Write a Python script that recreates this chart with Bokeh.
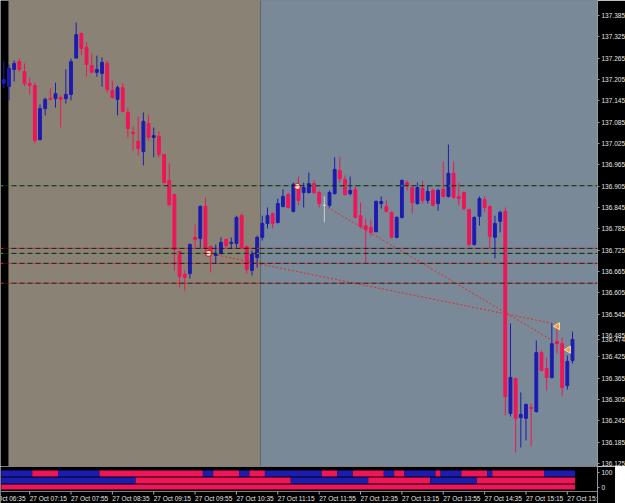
import math
from bokeh.plotting import figure
from bokeh.layouts import column
from bokeh.models import (FixedTicker, PrintfTickFormatter, LinearAxis, Range1d, Span)
from bokeh.core.properties import value
from bokeh.embed import file_html
from bokeh.resources import INLINE

# ---------------- data (M5 candles, 27 Oct 06:50 .. 16:00) ----------------
opens = [137.194, 137.185, 137.233, 137.255, 137.227, 137.194, 137.188, 137.036, 137.123, 137.151,
         137.151, 137.154, 137.151, 137.163, 137.265, 137.334, 137.295, 137.244, 137.225, 137.222,
         137.250, 137.174, 137.149, 137.182, 137.112, 137.056, 137.031, 137.002, 137.081, 137.042,
         137.045, 136.994, 136.921, 136.881, 136.721, 136.657, 136.659, 136.761, 136.758, 136.848,
         136.735, 136.710, 136.716, 136.755, 136.744, 136.744, 136.822, 136.735, 136.668, 136.704,
         136.761, 136.800, 136.828, 136.803, 136.848, 136.881, 136.834, 136.898, 136.887, 136.887,
         136.912, 136.887, 136.851, 136.851, 136.884, 136.949, 136.924, 136.884, 136.896, 136.822,
         136.794, 136.789, 136.777, 136.856, 136.848, 136.831, 136.761, 136.817, 136.915, 136.901,
         136.856, 136.898, 136.865, 136.893, 136.856, 136.896, 136.876, 136.941, 136.876, 136.887,
         136.839, 136.741, 136.820, 136.867, 136.848, 136.761, 136.806, 136.834, 136.266, 136.364,
         136.254, 136.252, 136.282, 136.271, 136.437, 136.392, 136.367, 136.468, 136.462, 136.344,
         136.415]
highs = [137.256, 137.247, 137.258, 137.264, 137.250, 137.210, 137.196, 137.135, 137.154, 137.180,
         137.196, 137.160, 137.233, 137.264, 137.365, 137.337, 137.309, 137.278, 137.272, 137.267,
         137.258, 137.202, 137.188, 137.194, 137.126, 137.073, 137.101, 137.112, 137.106, 137.070,
         137.059, 136.996, 136.969, 136.884, 136.724, 136.668, 136.744, 136.797, 136.851, 136.873,
         136.738, 136.741, 136.761, 136.758, 136.761, 136.822, 136.828, 136.738, 136.724, 136.766,
         136.822, 136.845, 136.831, 136.870, 136.896, 136.887, 136.915, 136.932, 136.915, 136.943,
         136.921, 136.893, 136.876, 136.893, 136.986, 136.988, 136.935, 136.932, 136.907, 136.859,
         136.814, 136.811, 136.865, 136.876, 136.865, 136.834, 136.820, 136.924, 136.921, 136.904,
         136.915, 136.921, 136.907, 136.898, 136.898, 136.974, 137.022, 136.974, 136.915, 136.890,
         136.842, 136.820, 136.876, 136.876, 136.851, 136.822, 136.836, 136.845, 136.519, 136.367,
         136.325, 136.294, 136.294, 136.471, 136.443, 136.423, 136.519, 136.507, 136.479, 136.429,
         136.496]
lows = [137.180, 137.146, 137.199, 137.227, 137.185, 137.163, 137.025, 137.033, 137.104, 137.146,
        137.126, 137.070, 137.137, 137.146, 137.265, 137.272, 137.213, 137.222, 137.213, 137.185,
        137.168, 137.151, 137.104, 137.112, 137.042, 137.005, 136.991, 136.963, 137.033, 136.986,
        136.986, 136.912, 136.848, 136.668, 136.620, 136.611, 136.645, 136.732, 136.732, 136.716,
        136.662, 136.687, 136.713, 136.732, 136.730, 136.732, 136.730, 136.659, 136.654, 136.676,
        136.752, 136.786, 136.786, 136.800, 136.845, 136.842, 136.831, 136.851, 136.845, 136.884,
        136.884, 136.845, 136.803, 136.845, 136.881, 136.915, 136.879, 136.879, 136.814, 136.786,
        136.690, 136.766, 136.775, 136.842, 136.831, 136.758, 136.758, 136.814, 136.893, 136.828,
        136.853, 136.856, 136.856, 136.848, 136.836, 136.873, 136.873, 136.870, 136.851, 136.836,
        136.735, 136.738, 136.794, 136.831, 136.730, 136.702, 136.775, 136.260, 136.257, 136.156,
        136.170, 136.190, 136.173, 136.268, 136.384, 136.330, 136.364, 136.434, 136.316, 136.333,
        136.406]
closes = [137.205, 137.236, 137.250, 137.233, 137.194, 137.188, 137.033, 137.123, 137.149, 137.149,
          137.165, 137.149, 137.163, 137.255, 137.331, 137.292, 137.247, 137.225, 137.233, 137.253,
          137.177, 137.154, 137.182, 137.115, 137.067, 137.053, 137.011, 137.087, 137.042, 137.047,
          136.994, 136.915, 136.853, 136.727, 136.651, 136.648, 136.741, 136.755, 136.848, 136.732,
          136.718, 136.716, 136.747, 136.738, 136.747, 136.817, 136.732, 136.671, 136.713, 136.761,
          136.800, 136.822, 136.800, 136.856, 136.876, 136.845, 136.910, 136.865, 136.901, 136.912,
          136.887, 136.856, 136.851, 136.887, 136.952, 136.926, 136.881, 136.893, 136.817, 136.791,
          136.783, 136.775, 136.862, 136.862, 136.834, 136.761, 136.817, 136.921, 136.907, 136.859,
          136.901, 136.865, 136.890, 136.851, 136.893, 136.876, 136.941, 136.873, 136.870, 136.842,
          136.741, 136.817, 136.870, 136.845, 136.763, 136.800, 136.831, 136.313, 136.367, 136.252,
          136.263, 136.291, 136.280, 136.437, 136.387, 136.367, 136.462, 136.462, 136.339, 136.412,
          136.474]

current_price = 136.474

price_ticks = [137.385, 137.325, 137.265, 137.205, 137.145, 137.085, 137.025, 136.965, 136.905,
               136.845, 136.785, 136.725, 136.665, 136.605, 136.545, 136.485, 136.425, 136.365,
               136.305, 136.245, 136.185, 136.125]

time_labels = ["27 Oct 06:35", "27 Oct 07:15", "27 Oct 07:55", "27 Oct 08:35", "27 Oct 09:15",
               "27 Oct 09:55", "27 Oct 10:35", "27 Oct 11:15", "27 Oct 11:55", "27 Oct 12:35",
               "27 Oct 13:15", "27 Oct 13:55", "27 Oct 14:35", "27 Oct 15:15", "27 Oct 15:55"]
time_label_bars = [-3, 5, 13, 21, 29, 37, 45, 53, 61, 69, 77, 85, 93, 101, 109]

# horizontal levels
level_prices = [136.906, 136.730, 136.716, 136.688, 136.632]
level_kinds = ["g", "r", "g", "r", "r"]

# trend (dotted) lines: bar index / price
trend_x0 = [39.8, 48.9, 62.0]
trend_p0 = [136.716, 136.688, 136.851]
trend_x1 = [48.9, 106.1, 106.1]
trend_p1 = [136.688, 136.519, 136.471]

# signal markers
dot_bars = [39.6, 56.8]
dot_prices = [136.716, 136.904]
arrow_bars = [107.1, 109.2]
arrow_prices = [136.511, 136.445]

# session zones (bar index)
zone_edges = [0.9, 49.65]

# indicator rows: run lengths (colour, number of bars)
ind_row1 = [("B", 6), ("R", 5), ("B", 8), ("R", 20), ("B", 2), ("R", 5), ("B", 2), ("R", 3),
            ("B", 11), ("R", 3), ("B", 3), ("R", 6), ("B", 2), ("R", 2), ("B", 6), ("R", 1),
            ("B", 4), ("R", 5), ("B", 1), ("R", 10), ("B", 6)]
ind_row2 = [("B", 26), ("R", 30), ("B", 15), ("R", 12), ("B", 9), ("R", 19)]
ind_row3 = [("R", 111)]

# ---------------- style ----------------
BULL = "#1c1cb0"
BEAR = "#ee1558"
DOJI = "#d0d0d0"
TAN = "#8b8276"
BLUEGRAY = "#7a8998"
AXIS_C = "#9a9a9a"
TXT_C = "#e4e4e4"
FONT = "Liberation Sans"
FS = "6.5px"

PX_PER_BAR = 5.17
FIRST_PX = 3.3
FRAME_W = 597
MAIN_H = 466
PRICE_PER_PX = 0.002812
TOP_PRICE = 137.427

X0 = -FIRST_PX / PX_PER_BAR
X1 = X0 + FRAME_W / PX_PER_BAR
Y_TOP = TOP_PRICE
Y_BOT = TOP_PRICE - MAIN_H * PRICE_PER_PX

n = len(opens)
idx = list(range(n))
colors = [BULL if c > o else (BEAR if c < o else DOJI) for o, c in zip(opens, closes)]
tops = [max(o, c) for o, c in zip(opens, closes)]
bots = [min(o, c) for o, c in zip(opens, closes)]

# ---------------- main chart ----------------
p = figure(frame_width=FRAME_W, frame_height=MAIN_H,
           x_range=Range1d(X0, X1), y_range=Range1d(Y_BOT, Y_TOP),
           output_backend="svg", toolbar_location=None,
           x_axis_location=None, y_axis_location=None, min_border=0,
           background_fill_color="#000000", border_fill_color="#000000",
           outline_line_color=None)
p.grid.visible = False

p.quad(left=[zone_edges[0], zone_edges[1]], right=[zone_edges[1], X1 + 5],
       bottom=Y_BOT - 1, top=Y_TOP + 1, fill_color=[TAN, BLUEGRAY], line_color=None)

for lp, kind in zip(level_prices, level_kinds):
    col = "#3fa63f" if kind == "g" else "#e02a2a"
    p.add_layout(Span(location=lp, dimension="width", line_color=col, line_width=1,
                      line_dash="3 5"))
    p.add_layout(Span(location=lp, dimension="width", line_color="#1a1a1a", line_width=1,
                      line_dash="5 3", line_dash_offset=5))

p.segment(x0=trend_x0, y0=trend_p0, x1=trend_x1, y1=trend_p1,
          line_color="#e02a2a", line_width=1, line_dash="2 2")

p.segment(x0=idx, y0=lows, x1=idx, y1=highs, line_color=colors, line_width=1)
p.vbar(x=idx, width=0.55, top=tops, bottom=bots, fill_color=colors, line_color=colors,
       line_width=1)

p.scatter(x=dot_bars, y=dot_prices, marker="circle", size=6, fill_color="#ffe6e6",
          line_color="#e02a2a", line_width=1.2)
p.scatter(x=arrow_bars, y=arrow_prices, marker="triangle", size=7, angle=math.pi / 2,
          fill_color="#f0a030", line_color="#fff2d0", line_width=0.8)

# current price shown on the price scale itself
pax = LinearAxis(ticker=FixedTicker(ticks=price_ticks + [current_price]),
                 formatter=PrintfTickFormatter(format="%.3f"),
                 axis_line_color=AXIS_C, major_tick_line_color=AXIS_C,
                 major_tick_out=2, major_tick_in=0, minor_tick_line_color=None,
                 major_label_text_color=TXT_C, major_label_text_font=FONT,
                 major_label_text_font_size=FS, major_label_standoff=2)
p.add_layout(pax, "right")

# ---------------- indicator + time scale ----------------
IND_PX = 100.0 / 15.0
IND_TOP = 100 + 6 * IND_PX
BOT_H = 37
IND_BOT = IND_TOP - BOT_H * IND_PX

q = figure(frame_width=FRAME_W, frame_height=BOT_H,
           x_range=p.x_range, y_range=Range1d(IND_BOT, IND_TOP),
           output_backend="svg", toolbar_location=None,
           x_axis_location=None, y_axis_location=None, min_border=0,
           background_fill_color="#000000", border_fill_color="#000000",
           outline_line_color=None)
q.grid.visible = False

row_bands = [(IND_TOP - 10 * IND_PX, IND_TOP - 4 * IND_PX),
             (IND_TOP - 17 * IND_PX, IND_TOP - 11 * IND_PX),
             (IND_TOP - 23 * IND_PX, IND_TOP - 18 * IND_PX)]
for runs, (b, t) in zip([ind_row1, ind_row2, ind_row3], row_bands):
    lefts, rights, cols = [], [], []
    start = 0
    for c, k in runs:
        lefts.append(start - 0.5)
        rights.append(start + k - 0.5)
        cols.append(BULL if c == "B" else BEAR)
        start += k
    q.quad(left=lefts, right=rights, bottom=b, top=t, fill_color=cols, line_color=None)

LINE_Y = IND_TOP - 25 * IND_PX
q.add_layout(Span(location=LINE_Y, dimension="width", line_color="#808080", line_width=1))
q.segment(x0=time_label_bars, y0=LINE_Y, x1=time_label_bars, y1=LINE_Y - 3 * IND_PX,
          line_color="#b0b0b0", line_width=1)
q.text(x=time_label_bars, y=[IND_TOP - 31.5 * IND_PX] * len(time_label_bars), text=time_labels,
       text_font=value(FONT), text_font_size=FS, text_color=TXT_C,
       text_align="left", text_baseline="middle")

iax = LinearAxis(ticker=FixedTicker(ticks=[0, 100]),
                 formatter=PrintfTickFormatter(format="%d"),
                 axis_line_color=AXIS_C, major_tick_line_color=AXIS_C,
                 major_tick_out=2, major_tick_in=0, minor_tick_line_color=None,
                 major_label_text_color=TXT_C, major_label_text_font=FONT,
                 major_label_text_font_size=FS, major_label_standoff=2)
q.add_layout(iax, "right")

layout = column(p, q, spacing=0)
open("out.html", "w").write(file_html(layout, INLINE))
